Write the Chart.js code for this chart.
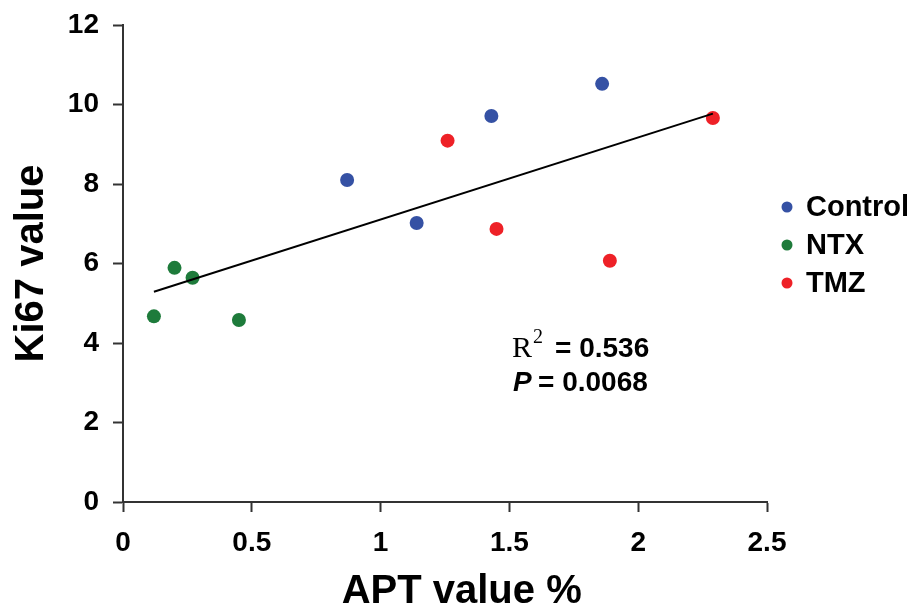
<!DOCTYPE html>
<html lang="en">
<head>
    <meta charset="UTF-8">
    <title>Ki67 vs APT</title>
    <style>
        body { margin: 0; background: #fff; }
        .wrap { width: 915px; height: 616px; }
    </style>
</head>
<body>
    <div class="wrap"><canvas id="apt"></canvas></div>

    <script src="https://cdn.jsdelivr.net/npm/chart.js"></script>
    <script>
        // values
        const controlX = [0.87, 1.14, 1.43, 1.86];
        const controlY = [8.10, 7.02, 9.71, 10.52];
        const ntxX = [0.12, 0.20, 0.27, 0.45];
        const ntxY = [4.67, 5.89, 5.64, 4.58];
        const tmzX = [1.26, 1.45, 1.89, 2.29];
        const tmzY = [9.09, 6.87, 6.07, 9.66];
        const fitX = [0.12, 2.29];
        const fitY = [5.29, 9.77];
        const groups = ['Control', 'NTX', 'TMZ'];
        const colors = ['#3551a4', '#1e7b3b', '#ee2127'];

        const pts = (xs, ys) => xs.map((x, i) => ({ x: x, y: ys[i] }));
        const font = 'Liberation Sans, Arial, sans-serif';

        const sideText = {
            id: 'sideText',
            afterDraw(chart) {
                const ctx = chart.ctx;
                ctx.save();
                // legend
                ctx.font = 'bold 29px ' + font;
                ctx.textBaseline = 'middle';
                ctx.textAlign = 'left';
                groups.forEach((g, i) => {
                    const y = 207 + i * 38;
                    ctx.fillStyle = colors[i];
                    ctx.beginPath();
                    ctx.arc(787, y, 5.5, 0, Math.PI * 2);
                    ctx.fill();
                    ctx.fillStyle = '#000';
                    ctx.fillText(g, 806, y + 1);
                });
                // stats
                ctx.textBaseline = 'alphabetic';
                ctx.fillStyle = '#000';
                ctx.font = '30px Liberation Serif, serif';
                ctx.fillText('R', 512, 357);
                ctx.font = '20px Liberation Serif, serif';
                ctx.fillText('2', 533, 343);
                ctx.font = 'bold 28px ' + font;
                ctx.fillText('= 0.536', 555, 357);
                ctx.font = 'italic bold 28px ' + font;
                ctx.fillText('P', 513, 391);
                ctx.font = 'bold 28px ' + font;
                ctx.fillText('= 0.0068', 538, 391);
                ctx.restore();
            }
        };

        const axisCommon = {
            type: 'linear',
            border: { display: true, color: '#333', width: 2 },
            grid: { drawOnChartArea: false, drawTicks: true, tickLength: 10, tickWidth: 2, tickColor: '#333' }
        };

        new Chart(document.getElementById('apt'), {
            type: 'scatter',
            data: {
                datasets: [
                    { label: groups[0], data: pts(controlX, controlY), backgroundColor: colors[0], borderWidth: 0, pointRadius: 7 },
                    { label: groups[1], data: pts(ntxX, ntxY), backgroundColor: colors[1], borderWidth: 0, pointRadius: 7 },
                    { label: groups[2], data: pts(tmzX, tmzY), backgroundColor: colors[2], borderWidth: 0, pointRadius: 7 },
                    { type: 'line', label: 'fit', data: pts(fitX, fitY), borderColor: '#000', borderWidth: 2, pointRadius: 0, order: -1 }
                ]
            },
            options: {
                responsive: true,
                maintainAspectRatio: false,
                animation: false,
                layout: { padding: { top: 25, right: 148, left: 0, bottom: 0 } },
                plugins: { legend: { display: false }, tooltip: { enabled: false } },
                scales: {
                    x: Object.assign({}, axisCommon, {
                        min: 0, max: 2.5,
                        ticks: { stepSize: 0.5, color: '#000', padding: 14, callback: v => String(v),
                                 font: { family: font, size: 28, weight: 'bold' } },
                        // leading spaces nudge the centred title right, as in the figure
                        title: { display: true, text: '   APT value %', color: '#000', padding: { bottom: 0 },
                                 font: { family: font, size: 40, weight: 'bold' } },
                        afterFit(s) { s.height = 114; s.paddingLeft = 0; s.paddingRight = 0; }
                    }),
                    y: Object.assign({}, axisCommon, {
                        min: 0, max: 12,
                        ticks: { stepSize: 2, color: '#000', padding: 14,
                                 font: { family: font, size: 28, weight: 'bold' } },
                        title: { display: true, text: 'Ki67 value', color: '#000', padding: { top: 8 },
                                 font: { family: font, size: 40, weight: 'bold' } },
                        afterFit(s) { s.width = 123; s.paddingTop = 0; s.paddingBottom = 0; }
                    })
                }
            },
            plugins: [sideText]
        });
    </script>
</body>
</html>
